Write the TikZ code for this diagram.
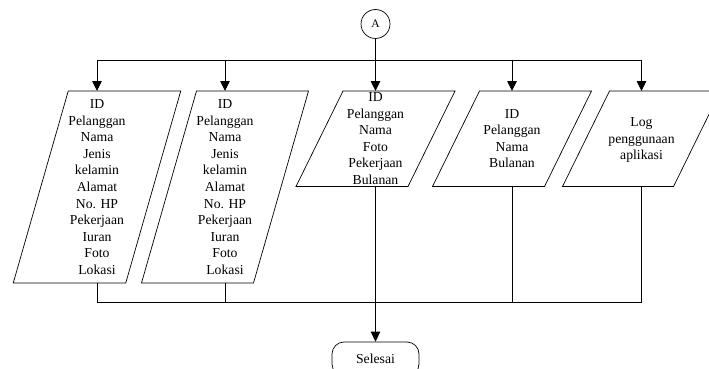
\documentclass[tikz,border=0pt]{standalone}
\usepackage{fontspec}
\setmainfont{Liberation Serif}
\usetikzlibrary{arrows.meta}

% Input/output parallelogram: name, centre x, top y, bottom y, slant, width
\newcommand\dataio[6]{%
  \draw[iobox] ({#2-#5/2-#6/2},#4) -- ({#2+#5/2-#6/2},#3)
    -- ({#2+#5/2+#6/2},#3) -- ({#2-#5/2+#6/2},#4) -- cycle;
  \coordinate (#1-top) at (#2,#3);
  \coordinate (#1-bot) at (#2,#4);
}

\begin{document}
\begin{tikzpicture}[x=1pt,y=-1pt,
  flow/.style={line width=0.9pt},
  arr/.style={flow,-{Triangle[length=10pt,width=9.5pt]}},
  iobox/.style={line width=0.7pt},
  txt/.style={align=center,font=\fontsize{13.7}{16.6}\selectfont,inner sep=0pt},
  connector/.style={draw,circle,line width=0.7pt,minimum size=29pt,inner sep=0pt,font=\fontsize{11.5}{13}\selectfont},
  terminal/.style={draw,line width=0.7pt,rounded corners=12pt,minimum width=87pt,minimum height=34pt,inner sep=0pt,font=\fontsize{13.7}{16.6}\selectfont}
]
\useasboundingbox (0,0) rectangle (709,369);

% start connector
\node[connector] (A) at (375.5,24) {A};

% data boxes
\dataio{d1}{97}{91}{283}{55}{112.5}
\dataio{d2}{225}{91}{283}{55}{112}
\dataio{d3}{375.5}{91}{186.5}{47}{112}
\dataio{d4}{512}{91}{186.5}{47}{112}
\dataio{d5}{641.5}{91}{186.5}{47}{111}

\node[txt] (t1) at (97,187) {ID\\Pelanggan\\Nama\\Jenis\\kelamin\\Alamat\\No. HP\\Pekerjaan\\Iuran\\Foto\\Lokasi};
\node[txt] (t2) at (225,187) {ID\\Pelanggan\\Nama\\Jenis\\kelamin\\Alamat\\No. HP\\Pekerjaan\\Iuran\\Foto\\Lokasi};
\node[txt] (t3) at (375.5,138.5) {ID\\Pelanggan\\Nama\\Foto\\Pekerjaan\\Bulanan};
\node[txt] (t4) at (512,138.5) {ID\\Pelanggan\\Nama\\Bulanan};
\node[txt] (t5) at (641.5,140) {Log\\penggunaan\\aplikasi};

% end terminal
\node[terminal] (end) at (375.5,359) {Selesai};

% top distribution bus
\coordinate (tl) at (97,60);
\coordinate (tr) at (641.5,60);
\draw[flow] (A) -- (A |- tl);
\draw[flow] (tl) -- (tr);
\foreach \b in {d1,d2,d3,d4,d5}
  \draw[arr] (\b-top |- tl) -- (\b-top);

% bottom collecting bus
\coordinate (bl) at (97,302);
\coordinate (br) at (641.5,302);
\draw[flow] (d1-bot) -- (bl) -- (br) -- (d5-bot);
\draw[flow] (d2-bot) -- (d2-bot |- bl);
\draw[flow] (d4-bot) -- (d4-bot |- bl);
\draw[arr] (d3-bot) -- (end);
\end{tikzpicture}
\end{document}
